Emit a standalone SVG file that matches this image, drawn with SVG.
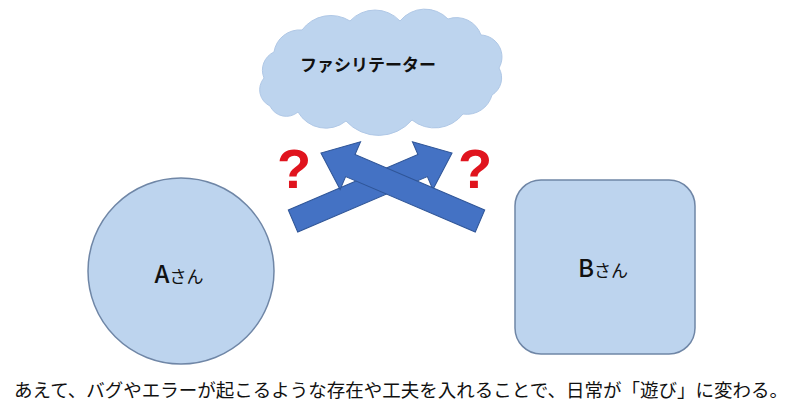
<svg xmlns="http://www.w3.org/2000/svg" width="800" height="419" viewBox="0 0 800 419">
<style>
.shape{fill:#BDD4EE;stroke:#6F86A6;stroke-width:1.5}
.cloud{fill:#BDD4EE;stroke:#B0C8E6;stroke-width:1}
.arrow{fill:#4472C4;stroke:#2F5597;stroke-width:1}
.jp{font-family:"Noto Sans CJK JP","Noto Sans",sans-serif;fill:#111}
.q{font-family:"Liberation Sans",Arial,sans-serif;font-weight:700;fill:#E0141E;text-anchor:middle}
</style>
<rect width="800" height="419" fill="#FFFFFF"/>
<g id="facilitator">
<path class="cloud" d="M270,106 A18,18 0 0 1 264,78 A20,20 0 0 1 274,52 A26,26 0 0 1 302,30 A36,36 0 0 1 350,21 A34,34 0 0 1 400,21 A32,32 0 0 1 448,19 A26,26 0 0 1 481,35 A22,22 0 0 1 499,68 A20,20 0 0 1 492,95 A26,26 0 0 1 463,114 A36,36 0 0 1 412,120 A44,44 0 0 1 346,121 A32,32 0 0 1 298,112 A18,18 0 0 1 270,106 Z"/>
<text class="jp" x="368" y="71" font-size="17" font-weight="700" text-anchor="middle">ファシリテーター</text>
</g>
<g id="connectors">
<polygon class="arrow" points="0,-12 141,-12 141,-26 173,0 141,26 141,12 0,12" transform="translate(293,221) rotate(-23.15)"/>
<polygon class="arrow" points="0,-12 141,-12 141,-26 173,0 141,26 141,12 0,12" transform="translate(480,221) scale(-1,1) rotate(-23.15)"/>
</g>
<g id="questions">
<text class="q" x="294" y="188" font-size="56">?</text>
<text class="q" x="475" y="188" font-size="56">?</text>
</g>
<g id="personA">
<circle class="shape" cx="181" cy="271" r="93"/>
<text class="jp" x="179" y="283" text-anchor="middle"><tspan font-size="24" font-weight="500">A</tspan><tspan font-size="17">さん</tspan></text>
</g>
<g id="personB">
<rect class="shape" x="515" y="180" width="180" height="174" rx="26"/>
<text class="jp" x="603" y="277" text-anchor="middle"><tspan font-size="24" font-weight="500">B</tspan><tspan font-size="17">さん</tspan></text>
</g>
<text class="jp" x="401" y="397" font-size="18.5" text-anchor="middle">あえて、バグやエラーが起こるような存在や工夫を入れることで、日常が「遊び」に変わる。</text>
</svg>
